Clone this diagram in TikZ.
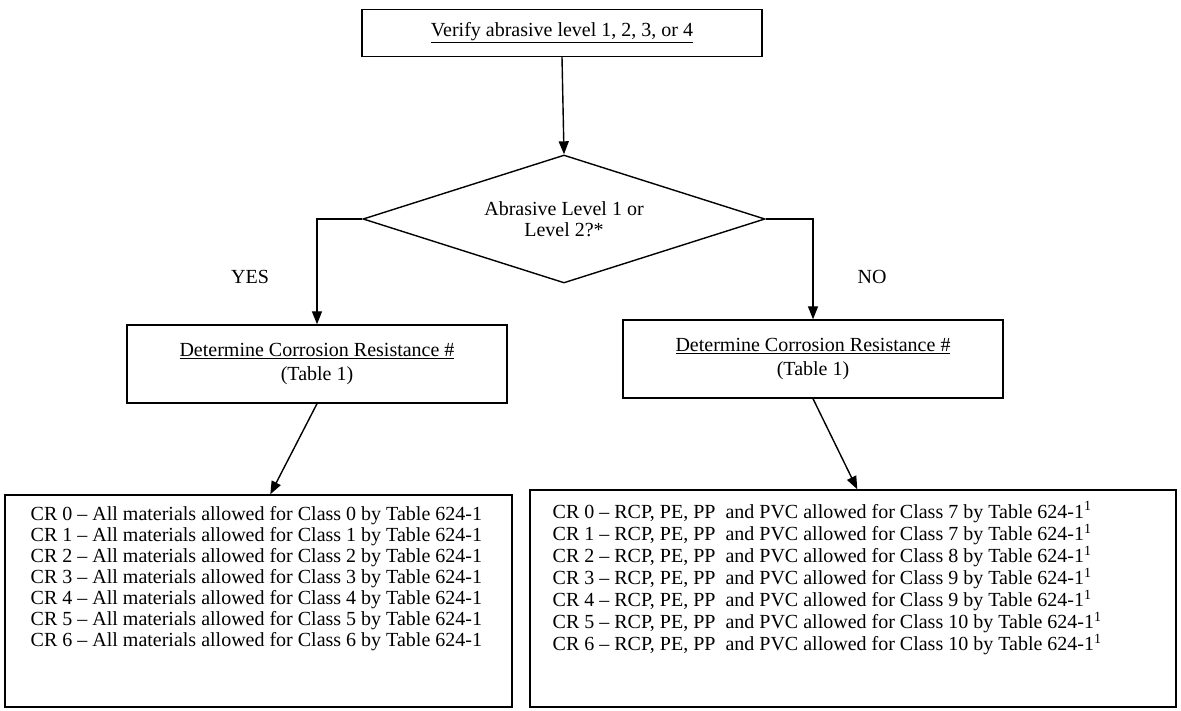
\documentclass[tikz,border=0pt]{standalone}
\usepackage{fontspec}
\setmainfont{Liberation Serif}
\usetikzlibrary{arrows.meta,shapes.geometric}

\begin{document}
\begin{tikzpicture}[x=1pt,y=-1pt,>={Triangle[length=13pt,width=10pt]},
    line width=1.4pt,font=\fontsize{20}{21}\selectfont,
    stepbox/.style={draw,inner sep=0pt,align=center},
    question/.style={draw,diamond,inner sep=0pt,aspect=3.14,align=center},
    listbox/.style={draw,inner sep=0pt},
    listtext/.style={anchor=north west,inner sep=0pt,align=left}]
  \useasboundingbox (0,0) rectangle (1181,711);

  \node[stepbox,minimum width=400pt,minimum height=47pt] (verify) at (562,33)
    {\underline{Verify abrasive level 1, 2, 3, or 4}};
  \node[question,minimum width=402pt,minimum height=128pt] (level) at (564,219)
    {Abrasive Level 1 or\\Level 2?*};

  \node (yes) at (250,277) {YES};
  \node (no) at (872,277) {NO};

  \node[stepbox,minimum width=380pt,minimum height=78pt] (detyes) at (317,364)
    {\underline{Determine Corrosion Resistance \#}\\[3pt](Table 1)};
  \node[stepbox,minimum width=380pt,minimum height=78pt] (detno) at (813,359)
    {\underline{Determine Corrosion Resistance \#}\\[3pt](Table 1)};

  % lists of allowed materials
  \node[listbox,minimum width=507pt,minimum height=212pt] (allcr) at (258.5,601) {};
  \node[listbox,minimum width=646pt,minimum height=217pt] (pvccr) at (853,598.5) {};

  \node[listtext] (alllist) at (30,506) {%
    CR 0 – All materials allowed for Class 0 by Table 624-1\\
    CR 1 – All materials allowed for Class 1 by Table 624-1\\
    CR 2 – All materials allowed for Class 2 by Table 624-1\\
    CR 3 – All materials allowed for Class 3 by Table 624-1\\
    CR 4 – All materials allowed for Class 4 by Table 624-1\\
    CR 5 – All materials allowed for Class 5 by Table 624-1\\
    CR 6 – All materials allowed for Class 6 by Table 624-1};
  \node[listtext] (pvclist) at (552,501) {%
    CR 0 – RCP, PE, PP\ \ and PVC allowed for Class 7 by Table 624-1\textsuperscript{1}\\
    CR 1 – RCP, PE, PP\ \ and PVC allowed for Class 7 by Table 624-1\textsuperscript{1}\\
    CR 2 – RCP, PE, PP\ \ and PVC allowed for Class 8 by Table 624-1\textsuperscript{1}\\
    CR 3 – RCP, PE, PP\ \ and PVC allowed for Class 9 by Table 624-1\textsuperscript{1}\\
    CR 4 – RCP, PE, PP\ \ and PVC allowed for Class 9 by Table 624-1\textsuperscript{1}\\
    CR 5 – RCP, PE, PP\ \ and PVC allowed for Class 10 by Table 624-1\textsuperscript{1}\\
    CR 6 – RCP, PE, PP\ \ and PVC allowed for Class 10 by Table 624-1\textsuperscript{1}};

  \draw[->] (verify.south) -- (level.north);
  \draw[->] (level.west) -| (detyes.north);
  \draw[->] (level.east) -| (detno.north);
  \draw[->] (detyes.south) -- ([xshift=266pt]allcr.north west);
  \draw[->] (detno.south) -- ([xshift=328pt]pvccr.north west);

\end{tikzpicture}
\end{document}
